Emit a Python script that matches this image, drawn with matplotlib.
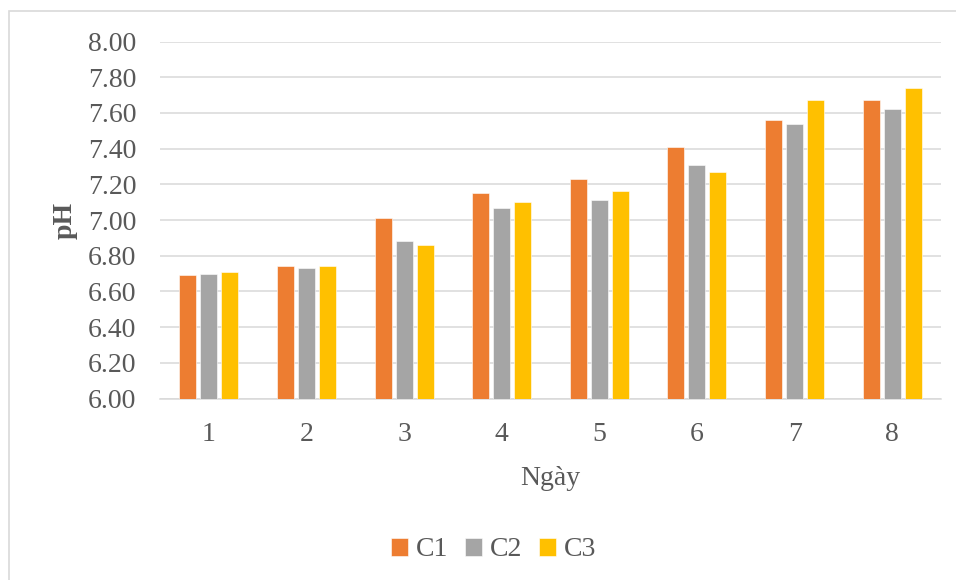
import matplotlib
matplotlib.use("Agg")
from matplotlib import pyplot as plt
from matplotlib.patches import Rectangle
import numpy as np

# Giá trị pH theo ngày cho ba công thức
days = [1, 2, 3, 4, 5, 6, 7, 8]
c1 = [6.69, 6.74, 7.01, 7.15, 7.23, 7.41, 7.56, 7.67]
c2 = [6.70, 6.73, 6.88, 7.07, 7.11, 7.31, 7.54, 7.62]
c3 = [6.71, 6.74, 6.86, 7.10, 7.16, 7.27, 7.67, 7.74]
series = [("C1", c1, "#ED7D31"), ("C2", c2, "#A5A5A5"), ("C3", c3, "#FFC000")]

plt.rcParams['font.family'] = ['Liberation Serif', 'DejaVu Serif']
text_color = "#595959"
grid_color = "#D9D9D9"

fig = plt.figure(figsize=(9.56, 5.80), dpi=100)
ax = fig.add_axes([160 / 956, 1 - 398.5 / 580, 781 / 956, 357 / 580])

x = np.array(days, dtype=float)
width = 0.175
step = 0.215
for j, (name, vals, col) in enumerate(series):
    ax.bar(x + (j - 1) * step, np.array(vals) - 6.0, width=width, bottom=6.0,
           color=col, edgecolor="white", linewidth=0.4, label=name, zorder=3)

ax.set_xlim(0.5, 8.5)
ax.set_ylim(6.0, 8.0)
ax.set_yticks(np.arange(6.0, 8.01, 0.2))
ax.set_yticklabels([f"{v:.2f}" for v in np.arange(6.0, 8.01, 0.2)])
ax.set_xticks(x)
ax.set_xticklabels([str(d) for d in days])

ax.yaxis.grid(True, color=grid_color, linewidth=1.1, zorder=0)
ax.set_axisbelow(True)
for s in ["top", "right", "left"]:
    ax.spines[s].set_visible(False)
ax.spines["bottom"].set_color(grid_color)
ax.spines["bottom"].set_linewidth(1.1)
ax.tick_params(axis="both", length=0, labelsize=20, labelcolor=text_color)
ax.tick_params(axis="y", pad=17)
ax.tick_params(axis="x", pad=17)

ax.set_ylabel("pH", fontsize=20, fontweight="bold", color=text_color)
ax.yaxis.set_label_coords(-0.106, 0.5)
ax.set_xlabel("Ngày", fontsize=20, color=text_color)
ax.xaxis.set_label_coords(0.5, -0.19)

fig.legend(loc="center", bbox_to_anchor=(494 / 956, 1 - 550 / 580), ncol=3,
           frameon=False, fontsize=20, handlelength=0.6, handleheight=0.6,
           handletextpad=0.3, columnspacing=0.6, labelcolor=text_color)

# Khung viền của vùng biểu đồ
fig.patches.append(Rectangle((9 / 956, -0.05), 1.0, 1 - 11 / 580 + 0.05,
                             transform=fig.transFigure, fill=False,
                             edgecolor=grid_color, linewidth=1.2))

fig.savefig("out.png", dpi=100)
